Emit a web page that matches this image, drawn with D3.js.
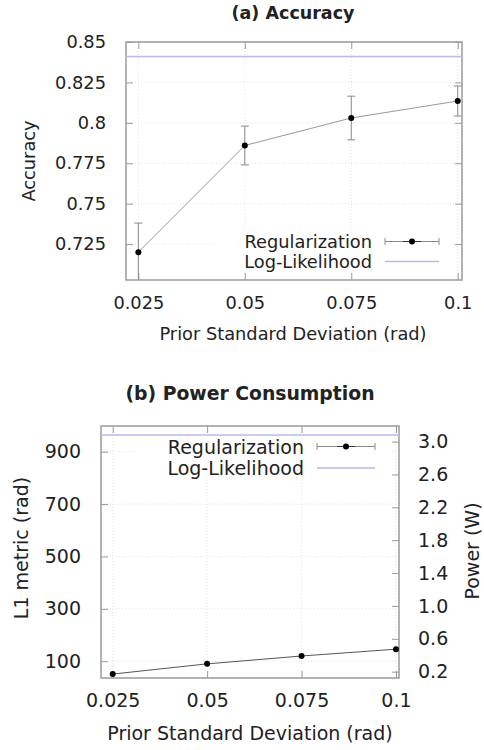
<!DOCTYPE html>
<html><head><meta charset="utf-8">
<script src="https://cdn.jsdelivr.net/npm/d3@7"></script>
<style>
html,body{margin:0;padding:0;background:#fff;}
svg text{font-family:"DejaVu Sans",sans-serif;fill:#222;}
</style></head>
<body>
<svg id="c" width="484" height="750"></svg>
<script>
// ---- data ----
const priorSD = [0.025, 0.05, 0.075, 0.1];
const xTicks = [0.025, 0.05, 0.075, 0.1];
const xTickLabels = ["0.025", "0.05", "0.075", "0.1"];

const accuracy = [0.720, 0.786, 0.803, 0.8135];
const accuracyErr = [0.018, 0.012, 0.0135, 0.0093];
const accuracyLogLik = 0.841;
const accYTicks = [0.725, 0.75, 0.775, 0.8, 0.825, 0.85];
const accYTickLabels = ["0.725", "0.75", "0.775", "0.8", "0.825", "0.85"];

const l1Metric = [51, 90, 120, 146];
const l1LogLik = 964;
const l1YTicks = [100, 300, 500, 700, 900];
const powerTicks = [0.2, 0.6, 1.0, 1.4, 1.8, 2.2, 2.6, 3.0];

const seriesNames = ["Regularization", "Log-Likelihood"];
const titles = ["(a) Accuracy", "(b) Power Consumption"];
const xLabel = "Prior Standard Deviation (rad)";

// ---- drawing ----
const svg = d3.select("#c");
const frameCol = "#9a9a9a";
const llCol = "#b8b8f4";

function panel(o) {
  const FS = o.fs;
  const g = svg.append("g");
  const x = d3.scaleLinear().domain(o.xDomain).range([o.left, o.right]);
  const y = d3.scaleLinear().domain(o.yDomain).range([o.bottom, o.top]);
  const clipId = "clip" + o.id;
  svg.append("clipPath").attr("id", clipId).append("rect")
    .attr("x", o.left).attr("y", o.top).attr("width", o.right - o.left).attr("height", o.bottom - o.top);

  // grid
  g.append("g").selectAll("line.gx").data(xTicks).join("line")
    .attr("x1", d => x(d)).attr("x2", d => x(d)).attr("y1", o.top).attr("y2", o.bottom)
    .attr("stroke", "#e4e4e4").attr("stroke-dasharray", "1,2");
  g.append("g").selectAll("line.gy").data(o.yTicks).join("line")
    .attr("y1", d => y(d)).attr("y2", d => y(d)).attr("x1", o.left).attr("x2", o.right)
    .attr("stroke", "#e4e4e4").attr("stroke-dasharray", "1,2");

  // legend background
  g.append("rect").attr("x", o.legBox[0]).attr("y", o.legBox[1]).attr("width", o.legBox[2]).attr("height", o.legBox[3]).attr("fill", "#fff");

  // ticks (inward)
  const TL = 7;
  const axX = d3.axisBottom(x).tickValues(xTicks).tickFormat((d, i) => xTickLabels[i]).tickSize(-TL).tickPadding(16);
  const gx = g.append("g").attr("transform", `translate(0,${o.bottom})`).call(axX);
  const axXt = d3.axisTop(x).tickValues(xTicks).tickFormat("").tickSize(-TL);
  const gxt = g.append("g").attr("transform", `translate(0,${o.top})`).call(axXt);
  const axY = d3.axisLeft(y).tickValues(o.yTicks).tickFormat((d, i) => o.yTickLabels[i]).tickSize(-TL).tickPadding(13 + TL);
  const gy = g.append("g").attr("transform", `translate(${o.left},0)`).call(axY);
  let gyr;
  if (o.y2) {
    const y2 = d3.scaleLinear().domain(o.y2Domain).range([o.bottom, o.top]);
    const axY2 = d3.axisRight(y2).tickValues(o.y2Ticks).tickFormat(d3.format(".1f")).tickSize(-TL).tickPadding(12 + TL);
    gyr = g.append("g").attr("transform", `translate(${o.right},0)`).call(axY2);
  } else {
    const axYr = d3.axisRight(y).tickValues(o.yTicks).tickFormat("").tickSize(-TL);
    gyr = g.append("g").attr("transform", `translate(${o.right},0)`).call(axYr);
  }
  [gx, gxt, gy, gyr].forEach(a => {
    a.select(".domain").remove();
    a.selectAll(".tick line").attr("stroke", frameCol).attr("stroke-width", 1);
    a.selectAll("text").attr("font-size", FS).attr("fill", "#222").attr("font-family", "DejaVu Sans");
  });

  // frame
  g.append("rect").attr("x", o.left).attr("y", o.top).attr("width", o.right - o.left).attr("height", o.bottom - o.top)
    .attr("fill", "none").attr("stroke", frameCol).attr("stroke-width", 1.5);

  const dg = g.append("g").attr("clip-path", `url(#${clipId})`);
  // log-likelihood line
  dg.append("line").attr("x1", o.left).attr("x2", o.right).attr("y1", y(o.ll)).attr("y2", y(o.ll))
    .attr("stroke", llCol).attr("stroke-width", 1.5);
  // error bars
  if (o.err) {
    o.vals.forEach((v, i) => {
      const xx = x(priorSD[i]);
      dg.append("line").attr("x1", xx).attr("x2", xx).attr("y1", y(v - o.err[i])).attr("y2", y(v + o.err[i]))
        .attr("stroke", "#8a8a8a").attr("stroke-width", 1);
      [v - o.err[i], v + o.err[i]].forEach(e => {
        dg.append("line").attr("x1", xx - 4).attr("x2", xx + 4).attr("y1", y(e)).attr("y2", y(e))
          .attr("stroke", "#8a8a8a").attr("stroke-width", 1);
      });
    });
  }
  // line
  dg.append("path").datum(o.vals.map((v, i) => [priorSD[i], v]))
    .attr("d", d3.line().x(d => x(d[0])).y(d => y(d[1])))
    .attr("fill", "none").attr("stroke", o.lineCol).attr("stroke-width", 1);
  // points
  g.append("g").selectAll("circle").data(o.vals).join("circle")
    .attr("cx", (d, i) => x(priorSD[i])).attr("cy", d => y(d)).attr("r", 3).attr("fill", "#000");

  // legend
  const L = o.leg;
  g.append("text").attr("x", L.textX).attr("y", L.y1 + FS * 0.37).attr("text-anchor", "end").attr("font-size", FS).text(seriesNames[0]);
  g.append("text").attr("x", L.textX).attr("y", L.y2 + FS * 0.37).attr("text-anchor", "end").attr("font-size", FS).text(seriesNames[1]);
  g.append("line").attr("x1", L.s0).attr("x2", L.s1).attr("y1", L.y1).attr("y2", L.y1).attr("stroke", "#8a8a8a");
  [L.s0, L.s1].forEach(s => g.append("line").attr("x1", s).attr("x2", s).attr("y1", L.y1 - 3.5).attr("y2", L.y1 + 3.5).attr("stroke", "#8a8a8a"));
  g.append("line").attr("x1", (L.s0 + L.s1) / 2 - 9).attr("x2", (L.s0 + L.s1) / 2 + 9).attr("y1", L.y1).attr("y2", L.y1).attr("stroke", "#333");
  g.append("circle").attr("cx", (L.s0 + L.s1) / 2).attr("cy", L.y1).attr("r", 3).attr("fill", "#000");
  g.append("line").attr("x1", L.s0).attr("x2", L.s1).attr("y1", L.y2).attr("y2", L.y2).attr("stroke", llCol).attr("stroke-width", 1.5);

  // titles & labels
  g.append("text").attr("x", o.titleX).attr("y", o.titleY).attr("text-anchor", "middle").attr("font-weight", "bold").attr("font-size", o.tfs).text(o.title);
  g.append("text").attr("x", o.xLabX).attr("y", o.xLabY).attr("text-anchor", "middle").attr("font-size", FS).text(xLabel);
  g.append("text").attr("transform", `translate(${o.yLabX},${o.yLabY}) rotate(-90)`).attr("text-anchor", "middle").attr("font-size", FS).text(o.yLab);
  if (o.y2Lab) g.append("text").attr("transform", `translate(${o.y2LabX},${o.y2LabY}) rotate(-90)`).attr("text-anchor", "middle").attr("font-size", FS).text(o.y2Lab);
}

panel({
  id: "a", fs: 17.8, tfs: 17.5, left: 126, right: 462, top: 42, bottom: 280,
  xDomain: [0.0221, 0.101], yDomain: [0.7028, 0.85],
  yTicks: accYTicks, yTickLabels: accYTickLabels,
  vals: accuracy, err: accuracyErr, ll: accuracyLogLik, lineCol: "#999",
  legBox: [212, 229, 238, 44],
  leg: { textX: 372, y1: 241.5, y2: 261.5, s0: 385, s1: 439 },
  title: titles[0], titleX: 293, titleY: 19,
  xLabX: 293, xLabY: 339.5, yLab: "Accuracy", yLabX: 35, yLabY: 161
});

panel({
  id: "b", fs: 19, tfs: 18.8, left: 101, right: 399, top: 426, bottom: 678,
  xDomain: [0.0219, 0.1008], yDomain: [36, 998],
  yTicks: l1YTicks, yTickLabels: l1YTicks.map(String),
  vals: l1Metric, err: null, ll: l1LogLik, lineCol: "#555",
  y2: true, y2Domain: [0.123, 3.19], y2Ticks: powerTicks,
  legBox: [135, 437, 255, 42],
  leg: { textX: 304, y1: 446.5, y2: 468, s0: 317, s1: 375 },
  title: titles[1], titleX: 250, titleY: 400,
  xLabX: 250, xLabY: 740, yLab: "L1 metric (rad)", yLabX: 28, yLabY: 548,
  y2Lab: "Power (W)", y2LabX: 479, y2LabY: 551
});
</script>
</body></html>
